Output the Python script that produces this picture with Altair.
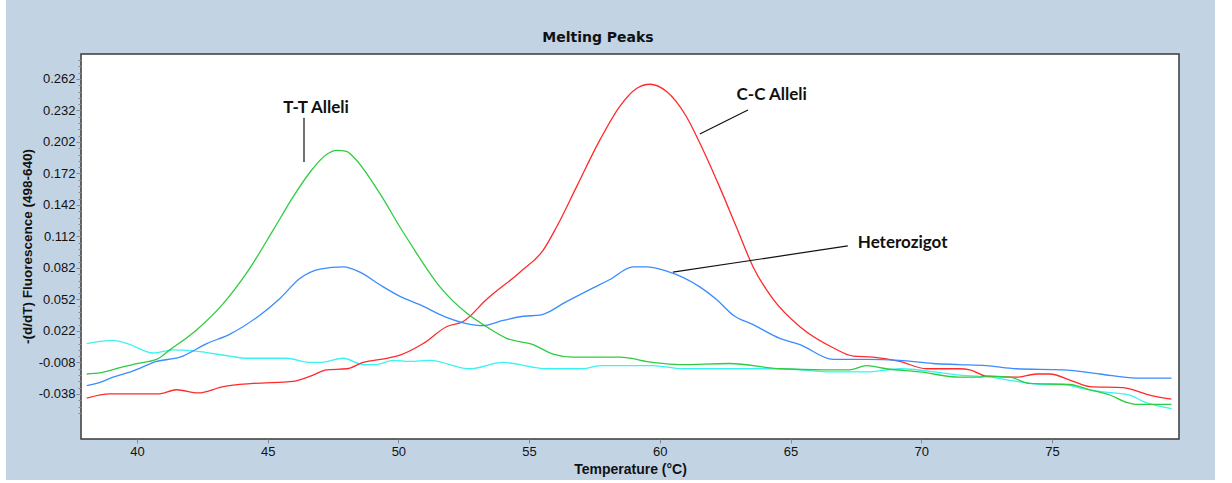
import altair as alt
import pandas as pd

# ---------------- data ----------------
series_names = ["Control", "C-C Alleli", "T-T Alleli", "Heterozigot"]
series_colors = ["#3CF2F2", "#FF2A2A", "#2ECC40", "#3A8CFF"]

tt_temp = [38.08, 38.59, 39.35, 39.99, 40.75, 41.26, 42.28, 43.30, 44.19, 45.21, 45.98,
           46.74, 47.25, 47.64, 48.02, 48.27, 49.29, 50.06, 50.44, 51.59, 52.61, 53.37,
           54.14, 55.15, 55.92, 56.68, 58.47, 59.74, 60.77, 62.68, 64.59, 66.37, 67.27,
           67.90, 68.67, 69.94, 71.47, 72.24, 72.49, 73.38, 74.15, 75.68, 76.44, 77.21,
           77.85, 78.23, 79.57]
tt_value = [-0.019, -0.018, -0.013, -0.009, -0.005, 0.004, 0.023, 0.048, 0.077, 0.118, 0.150,
            0.177, 0.190, 0.194, 0.193, 0.188, 0.153, 0.121, 0.106, 0.064, 0.039, 0.026,
            0.015, 0.009, 0.000, -0.003, -0.003, -0.008, -0.010, -0.009, -0.014, -0.015, -0.015,
            -0.011, -0.014, -0.017, -0.022, -0.022, -0.021, -0.022, -0.028, -0.029, -0.034, -0.039,
            -0.046, -0.048, -0.048]

cc_temp = [38.08, 38.97, 40.81, 41.52, 42.34, 43.30, 44.45, 45.98, 46.74, 47.25, 48.02,
           48.65, 49.55, 50.06, 50.95, 51.84, 52.48, 53.37, 54.65, 55.54, 56.05, 56.81,
           57.71, 58.47, 59.11, 59.62, 60.26, 61.02, 61.53, 62.29, 62.93, 63.57, 64.34,
           65.36, 66.63, 67.40, 68.16, 69.18, 70.20, 71.47, 71.86, 72.49, 73.64, 74.41,
           74.91, 75.81, 76.44, 77.72, 78.74, 79.57]
cc_value = [-0.042, -0.038, -0.038, -0.034, -0.037, -0.031, -0.028, -0.026, -0.020, -0.015, -0.014,
            -0.008, -0.004, -0.001, 0.010, 0.026, 0.031, 0.052, 0.078, 0.099, 0.121, 0.159,
            0.204, 0.236, 0.253, 0.257, 0.250, 0.226, 0.201, 0.159, 0.121, 0.083, 0.052,
            0.026, 0.006, -0.002, -0.003, -0.007, -0.014, -0.014, -0.015, -0.021, -0.022, -0.019,
            -0.019, -0.026, -0.031, -0.032, -0.039, -0.043]

het_temp = [38.08, 38.46, 39.09, 39.86, 40.75, 41.64, 42.67, 43.56, 44.70, 45.47, 46.23,
            47.00, 47.89, 48.53, 49.29, 50.06, 50.82, 51.84, 52.61, 53.24, 54.01, 54.77,
            55.41, 56.43, 57.45, 58.09, 58.98, 59.49, 60.26, 61.53, 62.17, 62.81, 63.57,
            64.59, 65.36, 66.63, 67.90, 69.18, 70.45, 71.47, 72.49, 73.64, 75.42, 76.83,
            78.23, 79.57]
het_value = [-0.030, -0.028, -0.022, -0.016, -0.007, -0.003, 0.010, 0.019, 0.037, 0.053, 0.072,
             0.081, 0.083, 0.078, 0.066, 0.055, 0.047, 0.035, 0.029, 0.027, 0.032, 0.036,
             0.037, 0.050, 0.063, 0.071, 0.083, 0.083, 0.079, 0.064, 0.052, 0.037, 0.028,
             0.015, 0.009, -0.005, -0.005, -0.006, -0.009, -0.010, -0.011, -0.014, -0.015, -0.019,
             -0.023, -0.023]

ctrl_temp = [38.08, 39.09, 39.73, 40.62, 41.39, 42.15, 43.56, 44.19, 45.72, 46.62, 47.00,
             47.89, 48.65, 49.17, 49.80, 50.44, 51.20, 52.73, 54.01, 55.66, 57.07, 57.71,
             59.74, 60.89, 63.06, 64.71, 66.63, 67.90, 69.18, 71.47, 72.62, 73.64, 74.66,
             75.42, 76.19, 76.95, 77.97, 78.48, 79.57]
ctrl_value = [0.010, 0.013, 0.009, 0.001, 0.004, 0.003, -0.002, -0.004, -0.004, -0.008, -0.008,
              -0.004, -0.010, -0.010, -0.006, -0.007, -0.006, -0.014, -0.008, -0.014, -0.014, -0.011,
              -0.011, -0.014, -0.014, -0.014, -0.017, -0.017, -0.014, -0.020, -0.022, -0.026, -0.029,
              -0.029, -0.033, -0.036, -0.039, -0.045, -0.052]

# annotations (label, anchor temperature, anchor value)
ann_labels = ["T-T Alleli", "C-C Alleli", "Heterozigot"]
ann_temp = [46.85, 64.28, 69.29]
ann_value = [0.2296, 0.242, 0.101]
# leader lines
lead_t1 = [46.39, 63.37, 67.19]
lead_v1 = [0.225, 0.2325, 0.103]
lead_t2 = [46.39, 61.53, 60.50]
lead_v2 = [0.183, 0.2096, 0.078]

x_ticks = [40, 45, 50, 55, 60, 65, 70, 75]
y_major_ticks = [0.262, 0.232, 0.202, 0.172, 0.142, 0.112, 0.082, 0.052, 0.022, -0.008, -0.038]
y_major_labels = ["0.262", "0.232", "0.202", "0.172", "0.142", "0.112", "0.082", "0.052",
                  "0.022", "-0.008", "-0.038"]
y_all_ticks = [round(0.262 + 0.006 * k, 3) for k in range(-53, 4)]
x_domain = [37.86, 79.86]
y_domain = [-0.0809, 0.2858]

# ---------------- build tables ----------------
rows = []
for name, ts, vs in [("Control", ctrl_temp, ctrl_value),
                     ("C-C Alleli", cc_temp, cc_value),
                     ("T-T Alleli", tt_temp, tt_value),
                     ("Heterozigot", het_temp, het_value)]:
    for i, (t, v) in enumerate(zip(ts, vs)):
        rows.append({"series": name, "temp": t, "value": v, "order": i})
df = pd.DataFrame(rows)

ann_df = pd.DataFrame({"label": ann_labels, "temp": ann_temp, "value": ann_value})
lead_df = pd.DataFrame({"t1": lead_t1, "v1": lead_v1, "t2": lead_t2, "v2": lead_v2})

W, H = 1098, 385
BG = "#C2D4E4"
FONT = "Liberation Sans"

x_scale = alt.Scale(domain=x_domain, nice=False, zero=False)
y_scale = alt.Scale(domain=y_domain, nice=False, zero=False)

label_map = "{" + ", ".join(f"'{round(v * 1000)}': '{s}'" for v, s in zip(y_major_ticks, y_major_labels)) + "}"
key = "'' + round(datum.value * 1000)"
major_test = "isValid(" + label_map + "[" + key + "])"

x_axis = alt.Axis(
    values=x_ticks, format="d", grid=False, domain=False,
    tickSize=4, tickColor="#8a8a8a", labelPadding=2,
    labelFont=FONT, labelFontSize=13, labelColor="#111111",
    title="Temperature (°C)", titleFont=FONT, titleFontSize=14, titleFontWeight="bold",
    titleColor="#111111", titleX=549, titleY=34, titleBaseline="alphabetic",
    titleAnchor="middle", zindex=1,
)
y_axis = alt.Axis(
    values=y_all_ticks, tickCount=200, format=".3f", grid=False, domain=False,
    labelExpr="(" + label_map + "[" + key + "]) || ''",
    labelOverlap=False, labelBound=False,
    tickSize={"condition": {"test": major_test, "value": 5}, "value": 3},
    tickColor="#8a8a8a", labelPadding=1,
    labelFont=FONT, labelFontSize=13, labelColor="#111111",
    title="-(d/dT) Fluorescence (498-640)", titleFont=FONT, titleFontSize=13.5,
    titleFontWeight="bold", titleColor="#111111", titleAngle=270,
    titleX=-54, titleY=192, titleAlign="center", titleBaseline="middle", zindex=1,
)

lines = alt.Chart(df).mark_line(strokeWidth=1.3, interpolate="monotone").encode(
    x=alt.X("temp:Q", scale=x_scale, axis=x_axis),
    y=alt.Y("value:Q", scale=y_scale, axis=y_axis),
    color=alt.Color("series:N", scale=alt.Scale(domain=series_names, range=series_colors), legend=None),
    order="order:Q",
    detail="series:N",
)

leaders = alt.Chart(lead_df).mark_rule(color="#111111", strokeWidth=1.2).encode(
    x=alt.X("t1:Q", scale=x_scale), y=alt.Y("v1:Q", scale=y_scale),
    x2="t2:Q", y2="v2:Q",
)

labels = alt.Chart(ann_df).mark_text(
    font="Lato", fontSize=17, fontWeight="bold", align="center",
    baseline="alphabetic", color="#111111",
).encode(
    x=alt.X("temp:Q", scale=x_scale), y=alt.Y("value:Q", scale=y_scale), text="label:N",
)

one = pd.DataFrame({"k": [0]})
white_left = alt.Chart(one).mark_rect(color="white").encode(
    x=alt.value(-81), x2=alt.value(-75), y=alt.value(-54), y2=alt.value(429))
white_right = alt.Chart(one).mark_rect(color="white").encode(
    x=alt.value(1134), x2=alt.value(1151), y=alt.value(-54), y2=alt.value(429))
white_bottom = alt.Chart(one).mark_rect(color="white").encode(
    x=alt.value(-81), x2=alt.value(1151), y=alt.value(426), y2=alt.value(429))

chart = alt.layer(white_left, white_right, white_bottom, lines, leaders, labels).properties(
    width=W, height=H,
    autosize=alt.AutoSizeParams(type="none"),
    padding={"left": 81, "top": 54, "right": 53, "bottom": 44},
    background=BG,
    title=alt.TitleParams(
        text="Melting Peaks", font="DejaVu Sans", fontSize=14, fontWeight="bold",
        color="#111111", frame="group", anchor="middle", dx=-32, dy=68, offset=12.5,
        baseline="alphabetic", zindex=1,
    ),
).configure_view(fill="white", stroke="#3a3a3a", strokeWidth=1.5)

chart.save("out.html", embed_options={"renderer": "svg", "actions": False})
